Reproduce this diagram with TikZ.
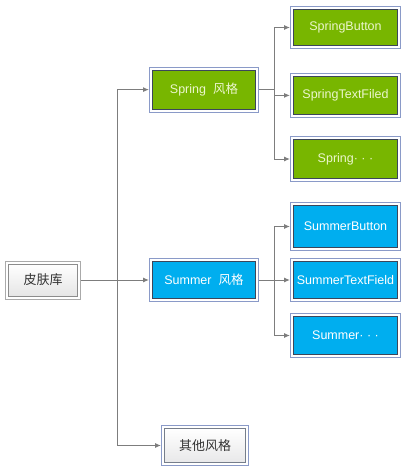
\documentclass[tikz,border=0pt]{standalone}
\usepackage{fontspec}
\usetikzlibrary{arrows.meta}
\setmainfont{Liberation Sans}
\newfontfamily\cjk{Noto Sans CJK SC}
\definecolor{springgreen}{RGB}{120,182,0}
\definecolor{summerblue}{RGB}{0,174,239}
\definecolor{springtext}{RGB}{236,246,206}
\definecolor{ringblue}{RGB}{138,154,200}
\definecolor{ringgray}{RGB}{170,170,170}
\definecolor{innerdark}{RGB}{60,70,90}
\definecolor{linegray}{RGB}{125,125,125}
\tikzset{
  box/.style={rectangle, minimum width=104pt, minimum height=38pt, inner sep=0pt, outer sep=3.5pt,
    line width=1pt, font=\fontsize{12.5}{15}\selectfont,
    preaction={draw=#1, line width=7pt}, preaction={draw=white, line width=5pt}},
  box/.default=ringblue,
  springbox/.style={box, fill=springgreen, draw=innerdark, text=springtext},
  summerbox/.style={box, fill=summerblue, draw=innerdark, text=white},
  graybox/.style={box=ringgray, top color=white, bottom color=black!10, draw=black!45, text=black!80},
  otherbox/.style={box, top color=white, bottom color=blue!4!black!9, draw=innerdark!70, text=black!80},
  link/.style={draw=linegray, line width=1pt}
}
\begin{document}
\begin{tikzpicture}[x=1pt, y=1pt,
                    node distance=161pt,
                    >={Latex[length=6pt,width=5pt]}
                    ]
    \useasboundingbox (0,0) rectangle (408,-472);

    \node [graybox, minimum width=69pt, minimum height=32pt] (lib) at (43,-280) {\cjk\fontsize{13}{15}\selectfont 皮肤库};
    \node [summerbox, right of=lib, minimum width=103pt, minimum height=37pt] (summer) {Summer\hspace{7pt}{\cjk 风格}};
    \node [springbox, above of=summer, node distance=190.4pt, minimum width=103pt, minimum height=39pt] (spring) {Spring\hspace{7pt}{\cjk 风格}};
    \node [otherbox, below of=summer, node distance=165.5pt, xshift=1pt, minimum width=81pt, minimum height=34pt] (other) {\cjk\fontsize{13}{15}\selectfont 其他风格};

    % spring widgets
    \node [springbox, right of=spring, node distance=141.5pt, yshift=62.1pt, minimum height=36pt] (springbutton) {SpringButton};
    \node [springbox, right of=spring, node distance=141.5pt, yshift=-5.8pt] (springfiled) {SpringTextFiled};
    \node [springbox, right of=spring, node distance=141.5pt, yshift=-69.4pt, minimum height=39pt] (springdots) {Spring·\ ·\ ·};

    % summer widgets
    \node [summerbox, right of=summer, node distance=141.5pt, yshift=53.5pt, minimum height=42pt] (summerbutton) {SummerButton};
    \node [summerbox, right of=summer, node distance=141.5pt, minimum height=37pt] (summerfield) {SummerTextField};
    \node [summerbox, right of=summer, node distance=141.5pt, yshift=-55.5pt] (summerdots) {Summer·\ ·\ ·};

    \coordinate [right of=lib, node distance=74pt] (split);
    \coordinate [right of=spring, node distance=70pt] (springfork);
    \coordinate [right of=summer, node distance=70pt] (summerfork);

    \draw [link,->] (lib) -- (summer);
    \draw [link,->] (split) |- (spring);
    \draw [link,->] (split) |- (other);

    \draw [link] (spring) -- (springfork);
    \foreach \n in {springbutton, springfiled, springdots}
        \draw [link,->] (springfork) |- (\n);

    \draw [link,->] (summer) -- (summerfield);
    \foreach \n in {summerbutton, summerdots}
        \draw [link,->] (summerfork) |- (\n);
\end{tikzpicture}
\end{document}
